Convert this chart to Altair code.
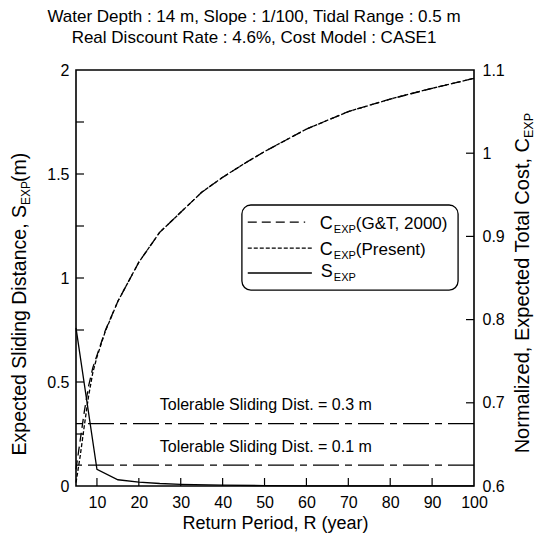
import altair as alt
import pandas as pd

FONT = "Liberation Sans"
W, H = 398, 416

# ---------------- data ----------------
title_lines = ["Water Depth : 14 m, Slope : 1/100, Tidal Range : 0.5 m",
               "Real Discount Rate : 4.6%, Cost Model : CASE1"]

R_cost = [5, 6, 7, 8, 9, 10, 12, 15, 20, 25, 30, 35, 40, 45, 50, 60, 70, 80, 90, 100]
C_gt = [0.620, 0.655, 0.690, 0.720, 0.742, 0.757, 0.787, 0.822, 0.869, 0.905,
        0.929, 0.953, 0.971, 0.987, 1.002, 1.029, 1.050, 1.065, 1.078, 1.090]
C_present = [0.604, 0.636, 0.673, 0.708, 0.736, 0.755, 0.786, 0.822, 0.869, 0.905,
             0.929, 0.953, 0.971, 0.987, 1.002, 1.029, 1.050, 1.065, 1.078, 1.090]

R_slide = [5, 10, 15, 20, 25, 30, 40, 50, 60, 70, 80, 90, 100]
S_exp = [0.76, 0.08, 0.03, 0.019, 0.012, 0.008, 0.004, 0.002, 0.001, 0.0008,
         0.0005, 0.0003, 0.0002]

tol_levels = [0.3, 0.1]
tol_texts = ["Tolerable Sliding Dist. = 0.3 m", "Tolerable Sliding Dist. = 0.1 m"]
tol_text_R = [50.3, 50.3]
tol_text_y = [0.365, 0.163]

x_tick_vals = [10, 20, 30, 40, 50, 60, 70, 80, 90]
x_label_vals = [10, 20, 30, 40, 50, 60, 70, 80, 90, 100]
left_tick_vals = [0.25, 0.5, 0.75, 1.0, 1.25, 1.5, 1.75]
left_label_vals = [0, 0.5, 1, 1.5, 2]
right_tick_vals = [0.7, 0.8, 0.9, 1.0]
right_label_vals = [0.6, 0.7, 0.8, 0.9, 1.0, 1.1]

legend_box_x = [44.6]
legend_box_x2 = [96.2]
legend_box_y = [1.351]
legend_box_y2 = [0.942]
legend_main = ["C", "C", "S"]
legend_sub = ["EXP", "EXP", "EXP"]
legend_rest = ["(G&T, 2000)", "(Present)", ""]
legend_line_y = [1.269, 1.144, 1.024]
legend_text_y = [1.236, 1.111, 1.005]
legend_line_x = [46.0, 46.0, 46.0]
legend_line_x2 = [59.7, 61.3, 61.3]
legend_text_R = [66.3, 66.3, 66.3]

left_title_main = "Expected Sliding Distance, S"
left_title_sub = "EXP"
left_title_rest = "(m)"
right_title_main = "Normalized, Expected Total Cost, C"
right_title_sub = "EXP"

# ---------------- scales / axes ----------------
xscale = alt.Scale(domain=[5, 100], nice=False, zero=False)
yLscale = alt.Scale(domain=[0, 2], nice=False, zero=False)
yRscale = alt.Scale(domain=[0.6, 1.1], nice=False, zero=False)

xaxis = alt.Axis(values=x_label_vals, title="Return Period, R (year)", grid=False,
                 ticks=False, domain=False, labelFontSize=16, labelPadding=8,
                 labelFont=FONT, titleFont=FONT, titleFontSize=18,
                 titleFontWeight="normal", titlePadding=4, labelColor="black",
                 titleColor="black", labelFlush=False)
axisL = alt.Axis(values=left_label_vals, format="~g", title=None, grid=False,
                 ticks=False, domain=False, labelFontSize=16, labelPadding=7,
                 labelFont=FONT, labelColor="black", orient="left", labelFlush=False)
axisR = alt.Axis(values=right_label_vals, format="~g", title=None, grid=False,
                 ticks=False, domain=False, labelFontSize=16, labelPadding=8,
                 labelFont=FONT, labelColor="black", orient="right", labelFlush=False)


def X(f="x"):
    return alt.X(f"{f}:Q", scale=xscale, axis=xaxis)


def YL(f="y"):
    return alt.Y(f"{f}:Q", scale=yLscale, axis=axisL)


def YR(f="y"):
    return alt.Y(f"{f}:Q", scale=yRscale, axis=axisR)


# ---------------- left-scale layers ----------------
df_s = pd.DataFrame({"x": R_slide, "y": S_exp})
s_line = alt.Chart(df_s).mark_line(color="black", strokeWidth=1.3).encode(x=X(), y=YL())

df_tol = pd.DataFrame({"y": tol_levels})
tol_rule = alt.Chart(df_tol).mark_rule(color="black", strokeWidth=1.3,
                                       strokeDash=[26, 6, 7, 6]).encode(y=YL())
df_toltxt = pd.DataFrame({"x": tol_text_R, "y": tol_text_y, "t": tol_texts})
tol_txt = alt.Chart(df_toltxt).mark_text(font=FONT, fontSize=16, align="center",
                                         baseline="alphabetic", color="black").encode(
    x=X(), y=YL(), text="t:N")

df_xt = pd.DataFrame({"x": x_tick_vals})
x_ticks = alt.Chart(df_xt).mark_rule(color="black", strokeWidth=1.2).encode(
    x=X(), y=alt.value(H), y2=alt.value(H - 8))
df_lt = pd.DataFrame({"y": left_tick_vals})
l_ticks = alt.Chart(df_lt).mark_rule(color="black", strokeWidth=1.2).encode(
    y=YL(), x=alt.value(0), x2=alt.value(8))

df_box = pd.DataFrame({"x": legend_box_x, "x2": legend_box_x2,
                       "y": legend_box_y, "y2": legend_box_y2})
box = alt.Chart(df_box).mark_rect(fill="white", stroke="black", strokeWidth=1.3,
                                  cornerRadius=9).encode(
    x=X(), x2="x2:Q", y=YL(), y2="y2:Q")

dashes = [[9, 5], [4, 2], None]
leg_lines = []
for i in range(3):
    d = pd.DataFrame({"x": [legend_line_x[i]], "x2": [legend_line_x2[i]],
                      "y": [legend_line_y[i]]})
    kw = dict(color="black", strokeWidth=1.3)
    if dashes[i] is not None:
        kw["strokeDash"] = dashes[i]
    leg_lines.append(alt.Chart(d).mark_rule(**kw).encode(x=X(), x2="x2:Q", y=YL()))

df_legtxt = pd.DataFrame({"x": legend_text_R, "y": legend_text_y, "m": legend_main,
                          "s": legend_sub, "r": legend_rest})
leg_main = alt.Chart(df_legtxt).mark_text(font=FONT, fontSize=18, align="right",
                                          baseline="alphabetic", color="black").encode(
    x=X(), y=YL(), text="m:N")
leg_sub = alt.Chart(df_legtxt).mark_text(font=FONT, fontSize=11, align="left", dx=1, dy=4,
                                         baseline="alphabetic", color="black").encode(
    x=X(), y=YL(), text="s:N")
leg_rest = alt.Chart(df_legtxt).mark_text(font=FONT, fontSize=17, align="left", dx=23,
                                          baseline="alphabetic", color="black").encode(
    x=X(), y=YL(), text="r:N")

# titles (layout text)
df_t = pd.DataFrame({"a": [0]})
t1 = alt.Chart(df_t).mark_text(text=title_lines[0], font=FONT, fontSize=17, align="center",
                               baseline="alphabetic", color="black").encode(
    x=alt.value(178), y=alt.value(-48))
t2 = alt.Chart(df_t).mark_text(text=title_lines[1], font=FONT, fontSize=17, align="center",
                               baseline="alphabetic", color="black").encode(
    x=alt.value(178), y=alt.value(-27))

LP = 135
lt_main = alt.Chart(df_t).mark_text(text=left_title_main, font=FONT, fontSize=19.5, angle=270,
                                    align="right", baseline="alphabetic", color="black").encode(
    x=alt.value(-50), y=alt.value(LP))
lt_sub = alt.Chart(df_t).mark_text(text=left_title_sub, font=FONT, fontSize=12, angle=270,
                                   align="left", dy=4, baseline="alphabetic", color="black").encode(
    x=alt.value(-50), y=alt.value(LP))
lt_rest = alt.Chart(df_t).mark_text(text=left_title_rest, font=FONT, fontSize=19.5, angle=270,
                                    align="left", dx=23, baseline="alphabetic", color="black").encode(
    x=alt.value(-50), y=alt.value(LP))

RP = 68
rt_main = alt.Chart(df_t).mark_text(text=right_title_main, font=FONT, fontSize=20, angle=270,
                                    align="right", baseline="alphabetic", color="black").encode(
    x=alt.value(453), y=alt.value(RP))
rt_sub = alt.Chart(df_t).mark_text(text=right_title_sub, font=FONT, fontSize=12.5, angle=270,
                                   align="left", dy=4, baseline="alphabetic", color="black").encode(
    x=alt.value(453), y=alt.value(RP))

left_group = alt.layer(s_line, tol_rule, tol_txt, x_ticks, l_ticks, box, *leg_lines,
                       leg_main, leg_sub, leg_rest, t1, t2, lt_main, lt_sub, lt_rest,
                       rt_main, rt_sub)

# ---------------- right-scale layers ----------------
df_c = pd.DataFrame({"x": R_cost, "y": C_gt})
df_p = pd.DataFrame({"x": R_cost, "y": C_present})
c_line = alt.Chart(df_c).mark_line(color="black", strokeWidth=1.3, strokeDash=[9, 5]).encode(
    x=X(), y=YR())
p_line = alt.Chart(df_p).mark_line(color="black", strokeWidth=1.3, strokeDash=[4, 2]).encode(
    x=X(), y=YR())
df_rt = pd.DataFrame({"y": right_tick_vals})
r_ticks = alt.Chart(df_rt).mark_rule(color="black", strokeWidth=1.2).encode(
    y=YR(), x=alt.value(W), x2=alt.value(W - 8))

right_group = alt.layer(c_line, p_line, r_ticks)

chart = alt.layer(left_group, right_group).resolve_scale(y="independent").properties(
    width=W, height=H,
    autosize=alt.AutoSizeParams(type="none"),
    padding={"left": 76, "top": 70, "right": 73, "bottom": 47},
    background="white",
).configure_view(stroke="black", strokeWidth=1.6)

chart.save("out.html", embed_options={"renderer": "svg", "actions": False})
